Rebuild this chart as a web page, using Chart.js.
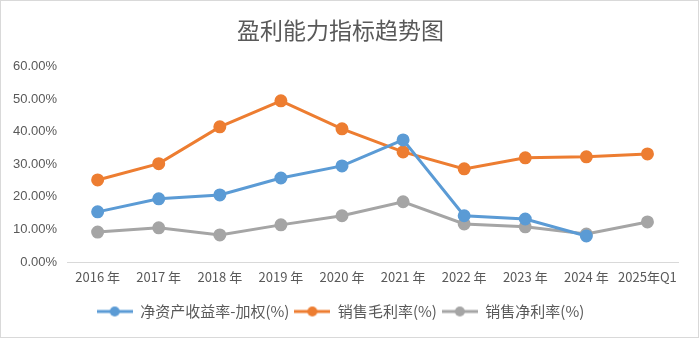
<!DOCTYPE html>
<html>
<head>
<meta charset="utf-8">
<script src="https://cdn.jsdelivr.net/npm/chart.js@4.4.1/dist/chart.umd.min.js"></script>
<style>
  html, body { margin: 0; padding: 0; background: #fff; }
  #wrap { width: 699px; height: 338px; box-sizing: border-box; border: 1px solid #d9d9d9; position: relative; }
  #chart { display: block; }
</style>
</head>
<body>
<div id="wrap"><canvas id="chart" width="697" height="336"></canvas></div>
<script>
// ---- Data ---------------------------------------------------------------
const categories = ["2016 年", "2017 年", "2018 年", "2019 年", "2020 年",
                    "2021 年", "2022 年", "2023 年", "2024 年", "2025年Q1"];
const roeWeighted = [15.4, 19.4, 20.6, 25.8, 29.5, 37.5, 14.2, 13.2, 8.0, null];
const grossMargin = [25.2, 30.2, 41.5, 49.5, 40.9, 33.8, 28.6, 32.0, 32.3, 33.2];
const netMargin   = [9.2, 10.5, 8.3, 11.4, 14.2, 18.5, 11.7, 10.8, 8.6, 12.3];
const yTicks      = [0, 10, 20, 30, 40, 50, 60];

const BLUE   = "#5b9bd5";
const ORANGE = "#ed7d31";
const GREY   = "#a5a5a5";
const TEXT   = "#595959";

// Excel-like legend marker: short line with a dot in the middle
function legendMarker(color) {
    const c = document.createElement("canvas");
    c.width = 36; c.height = 12;
    const g = c.getContext("2d");
    g.strokeStyle = color;
    g.lineWidth = 3;
    g.beginPath(); g.moveTo(0, 6); g.lineTo(36, 6); g.stroke();
    g.fillStyle = color;
    g.beginPath(); g.arc(18, 6, 5, 0, Math.PI * 2); g.fill();
    return c;
}

function series(label, data, color) {
    return {
        label, data,
        borderColor: color,
        backgroundColor: color,
        borderWidth: 3,
        pointRadius: 5,
        pointHoverRadius: 5,
        pointBackgroundColor: color,
        pointBorderColor: color,
        pointStyle: "circle",
        tension: 0,
        spanGaps: false,
    };
}

const ctx = document.getElementById("chart").getContext("2d");
new Chart(ctx, {
    type: "line",
    data: {
        labels: categories,
        datasets: [
            series("净资产收益率-加权(%)", roeWeighted, BLUE),
            series("销售毛利率(%)", grossMargin, ORANGE),
            series("销售净利率(%)", netMargin, GREY),
        ],
    },
    options: {
        responsive: false,
        animation: false,
        layout: { padding: { left: 2, right: 20, top: 0, bottom: 8 } },
        plugins: {
            title: {
                display: true,
                text: "盈利能力指标趋势图",
                color: TEXT,
                font: { family: "'Noto Sans CJK SC', 'Noto Sans'", size: 23, weight: "normal" },
                padding: { top: 15, bottom: 23 },
            },
            legend: {
                position: "bottom",
                labels: {
                    usePointStyle: true,
                    pointStyleWidth: 36,
                    boxHeight: 12,
                    color: TEXT,
                    font: { family: "'Noto Sans CJK SC', 'Noto Sans'", size: 15 },
                    padding: 5,
                    generateLabels: (chart) => {
                        const items = Chart.defaults.plugins.legend.labels.generateLabels(chart);
                        items.forEach((it) => {
                            it.pointStyle = legendMarker(chart.data.datasets[it.datasetIndex].borderColor);
                        });
                        return items;
                    },
                },
            },
            tooltip: { enabled: false },
        },
        scales: {
            x: {
                offset: true,
                grid: { display: false, drawTicks: false },
                border: { display: true, color: "#d9d9d9", width: 1 },
                ticks: {
                    color: TEXT,
                    font: { family: "'Noto Sans CJK SC', 'Liberation Sans'", size: 13 },
                    maxRotation: 0, autoSkip: false, padding: 7,
                },
                afterFit: (s) => { s.height = 37; },
            },
            y: {
                min: 0, max: 60,
                afterBuildTicks: (s) => { s.ticks = yTicks.map((v) => ({ value: v })); },
                grid: { display: false, drawTicks: false },
                border: { display: false },
                ticks: {
                    color: TEXT,
                    font: { family: "'Liberation Sans', 'Noto Sans'", size: 13 },
                    padding: 10,
                    callback: (v) => v.toFixed(2) + "%",
                },
            },
        },
    },
});
</script>
</body>
</html>
